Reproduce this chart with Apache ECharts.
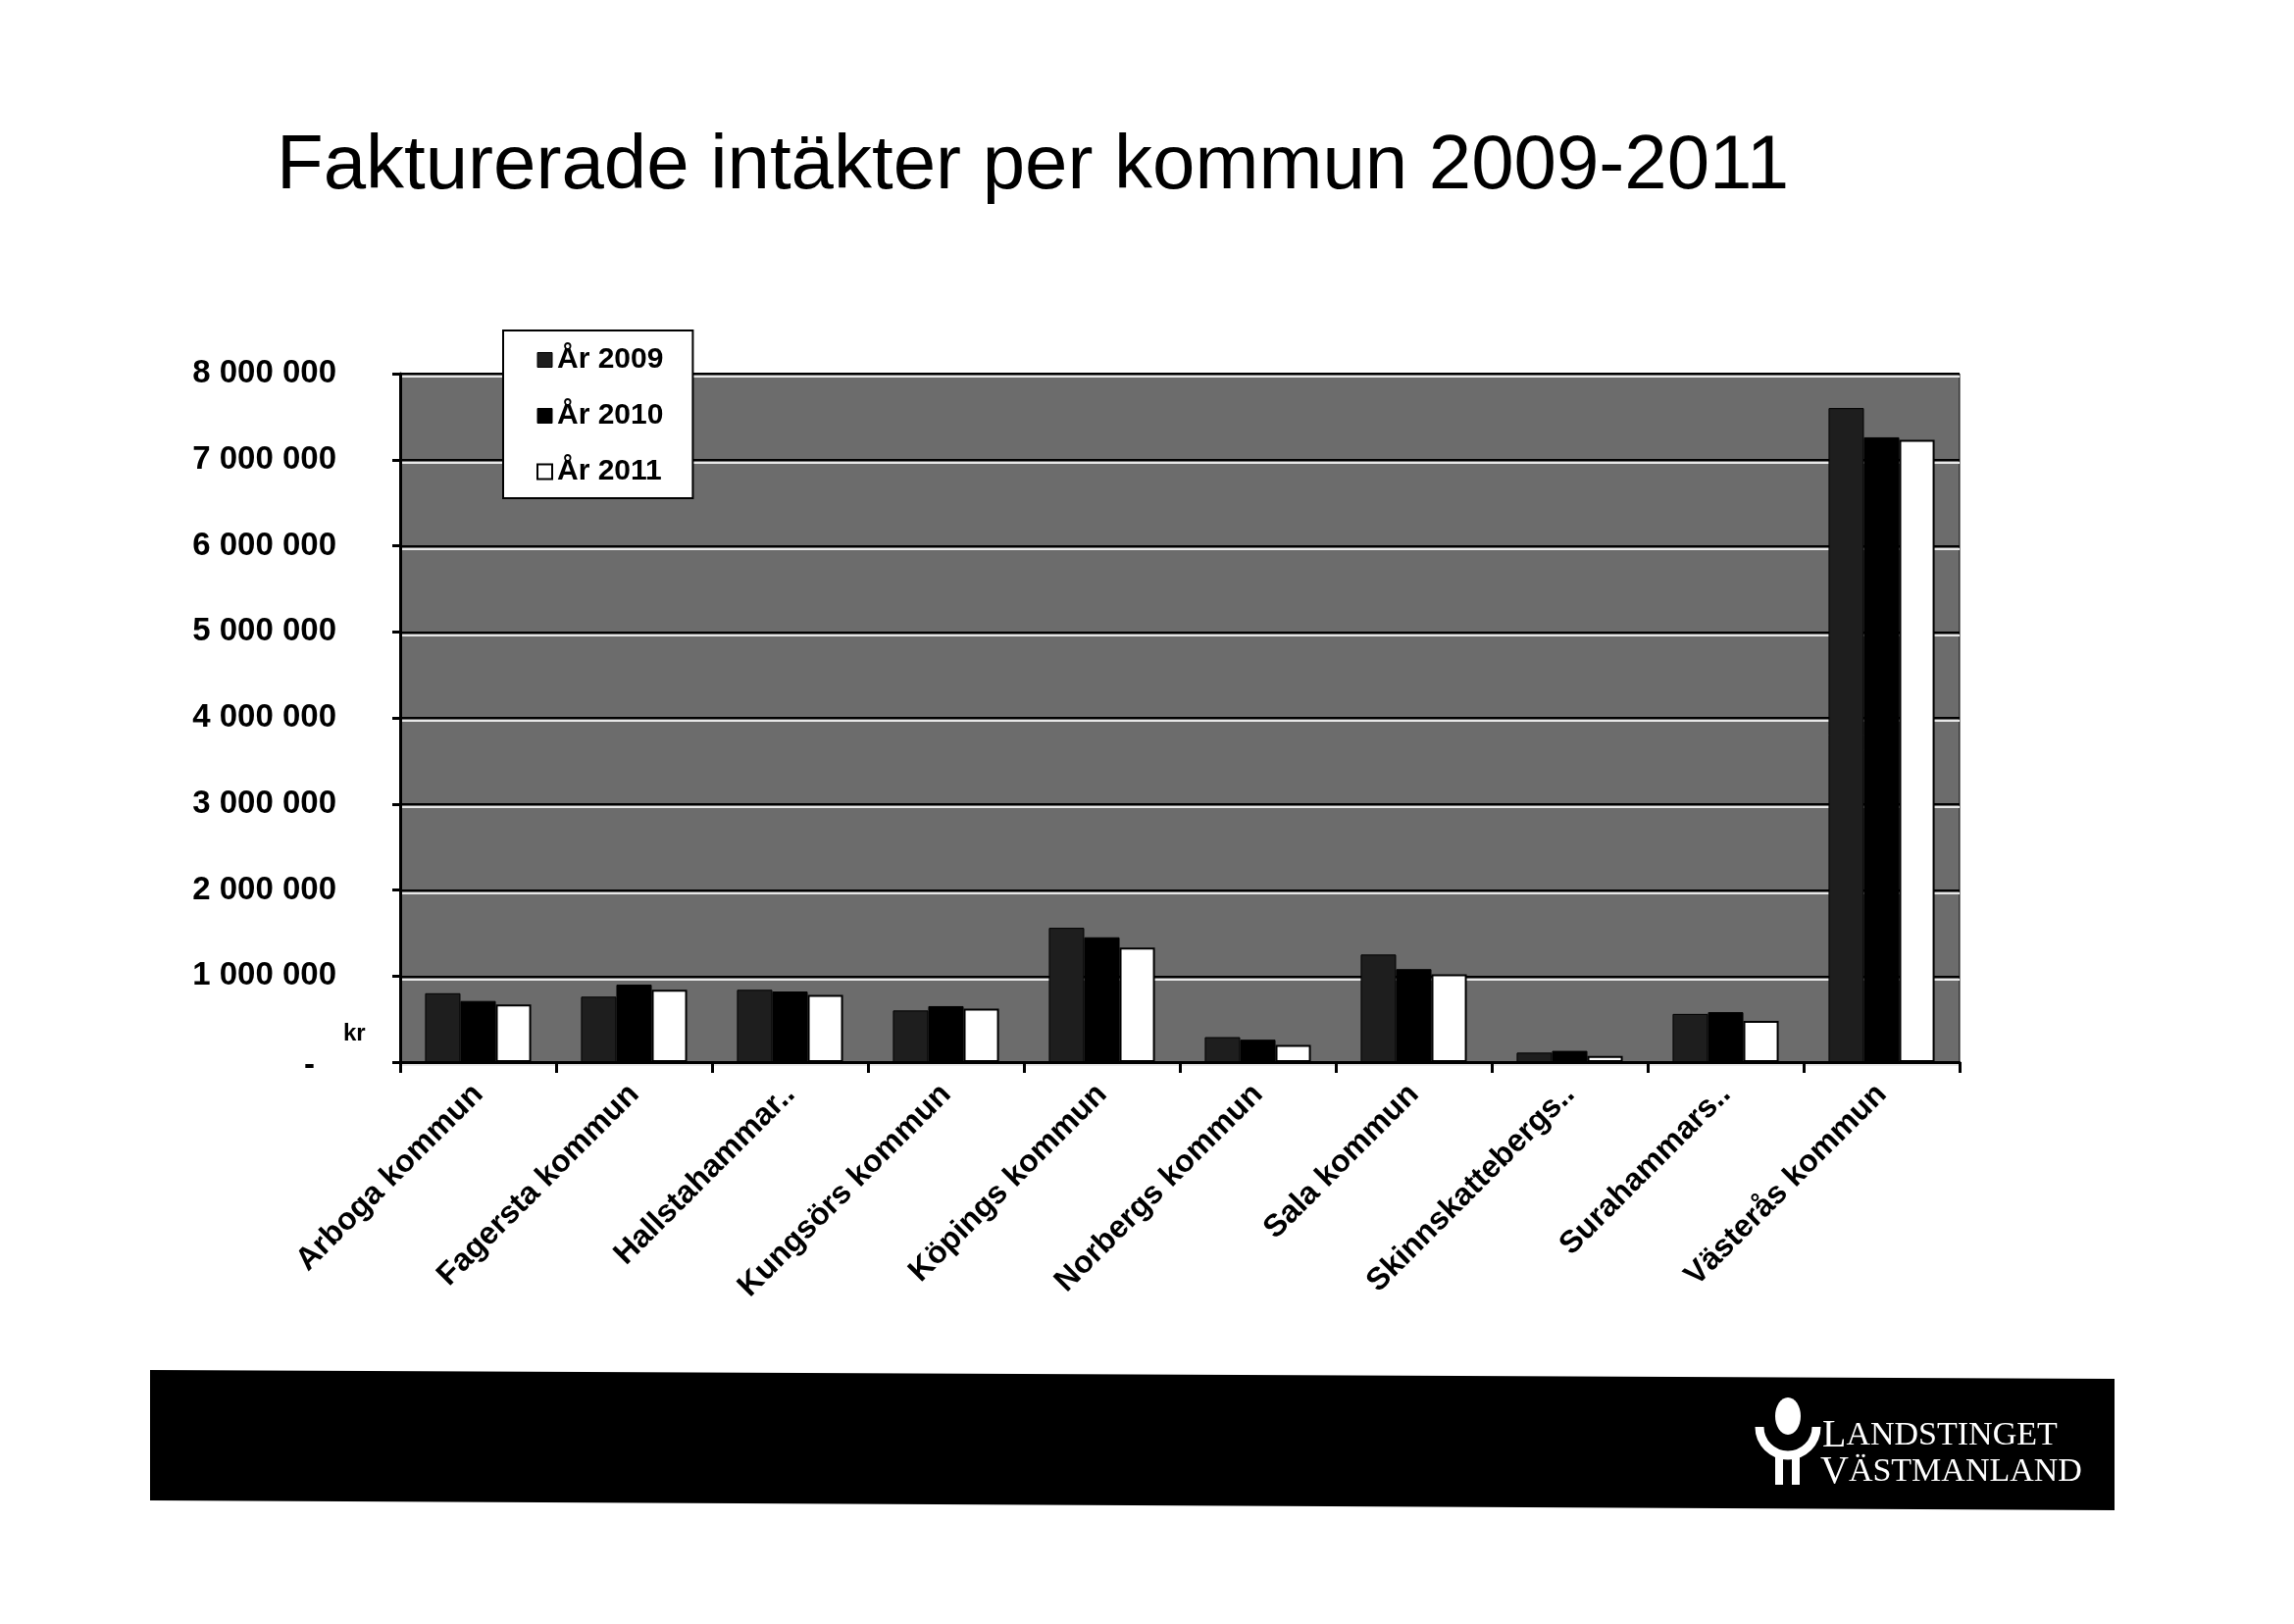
<!DOCTYPE html>
<html><head><meta charset="utf-8">
<script src="https://cdn.jsdelivr.net/npm/echarts@6/dist/echarts.min.js"></script>
<style>html,body{margin:0;padding:0;background:#fff}#c{width:2339px;height:1656px}</style>
</head><body><div id="c"></div>
<script>
const categories = ['Arboga kommun','Fagersta kommun','Hallstahammar..','Kungsörs kommun','Köpings kommun','Norbergs kommun','Sala kommun','Skinnskattebergs..','Surahammars..','Västerås kommun'];
const seriesNames = ['År 2009','År 2010','År 2011'];
const values2009 = [800000, 760000, 840000, 600000, 1560000, 290000, 1250000, 110000, 560000, 7600000];
const values2010 = [710000, 900000, 820000, 650000, 1450000, 260000, 1080000, 130000, 580000, 7260000];
const values2011 = [670000, 840000, 780000, 620000, 1330000, 200000, 1020000, 70000, 480000, 7230000];
const yTicks = {min: 0, max: 8000000, interval: 1000000};

const chart = echarts.init(document.getElementById('c'));
const fmt = v => v === 0 ? '{z|-}' : String(v).replace(/\B(?=(\d{3})+(?!\d))/g, ' ');
const sans = 'Liberation Sans';
const seriesStyle = [
  {color: '#1e1e1e', borderColor: '#000', borderWidth: 1},
  {color: '#000', borderColor: '#000', borderWidth: 1},
  {color: '#fff', borderColor: '#000', borderWidth: 2}
];
const data = [values2009, values2010, values2011];
chart.setOption({
  animation: false,
  backgroundColor: '#fff',
  title: {
    text: 'Fakturerade intäkter per kommun 2009-2011',
    left: 277, top: 126,
    textStyle: {fontFamily: sans, fontSize: 78, fontWeight: 'normal', color: '#000'}
  },
  legend: {
    orient: 'vertical', left: 513, top: 337,
    backgroundColor: '#fff', borderColor: '#000', borderWidth: 2,
    padding: [15, 30, 12, 34], itemGap: 27, itemWidth: 15, itemHeight: 15,
    textStyle: {fontFamily: sans, fontSize: 30, fontWeight: 'bold', color: '#000', lineHeight: 30},
    data: seriesNames.map((n, i) => ({name: n, icon: 'rect', itemStyle: {borderColor: '#000', borderWidth: i === 2 ? 2 : 1}}))
  },
  grid: {
    left: 408, right: 341, top: 381, bottom: 573,
    show: true, backgroundColor: '#6c6c6c', borderColor: '#000', borderWidth: 1
  },
  xAxis: {
    type: 'category', data: categories,
    axisLine: {lineStyle: {color: '#000', width: 3}},
    axisTick: {show: true, length: 11, lineStyle: {color: '#000', width: 3}},
    axisLabel: {rotate: 45, margin: 28, interval: 0, fontFamily: sans, fontSize: 32, fontWeight: 'bold', color: '#000'}
  },
  yAxis: {
    type: 'value', min: yTicks.min, max: yTicks.max, interval: yTicks.interval,
    axisLine: {show: true, lineStyle: {color: '#000', width: 3}},
    axisTick: {show: true, length: 8, lineStyle: {color: '#000', width: 3}},
    splitLine: {lineStyle: {color: '#000', width: 2, shadowColor: '#e8e8e8', shadowOffsetY: 3, shadowBlur: 0}},
    axisLabel: {margin: 65, formatter: fmt, fontFamily: sans, fontSize: 33, fontWeight: 'bold', color: '#000',
      rich: {z: {fontFamily: sans, fontSize: 33, fontWeight: 'bold', color: '#000', padding: [8, 22, 0, 0]}}}
  },
  series: seriesNames.map((n, i) => ({
    name: n, type: 'bar', data: data[i], barGap: '0%', barCategoryGap: '32%',
    itemStyle: seriesStyle[i]
  })),
  graphic: [
    {type: 'text', left: 350, top: 1042, style: {text: 'kr', font: 'bold 24px "Liberation Sans"', fill: '#000'}},
    {type: 'polygon', shape: {points: [[153,1397],[2156,1406],[2156,1540],[153,1530]]}, style: {fill: '#000'}},
    {type: 'ellipse', shape: {cx: 1823, cy: 1444, rx: 13, ry: 19}, style: {fill: '#fff'}},
    {type: 'arc', shape: {cx: 1823, cy: 1455, r: 29, startAngle: 0, endAngle: Math.PI}, style: {stroke: '#fff', lineWidth: 9, fill: null}},
    {type: 'rect', shape: {x: 1810, y: 1484, width: 8, height: 30}, style: {fill: '#fff'}},
    {type: 'rect', shape: {x: 1827, y: 1484, width: 8, height: 30}, style: {fill: '#fff'}},
    {type: 'text', left: 1858, top: 1444, style: {text: '{a|L}{b|ANDSTINGET}', rich: {a: {fontFamily: 'Liberation Serif', fontSize: 40, fill: '#fff', color: '#fff'}, b: {fontFamily: 'Liberation Serif', fontSize: 34, color: '#fff', fill: '#fff'}}}},
    {type: 'text', left: 1856, top: 1481, style: {text: '{a|V}{b|ÄSTMANLAND}', rich: {a: {fontFamily: 'Liberation Serif', fontSize: 40, fill: '#fff', color: '#fff'}, b: {fontFamily: 'Liberation Serif', fontSize: 34, color: '#fff', fill: '#fff'}}}}
  ]
});
</script></body></html>
